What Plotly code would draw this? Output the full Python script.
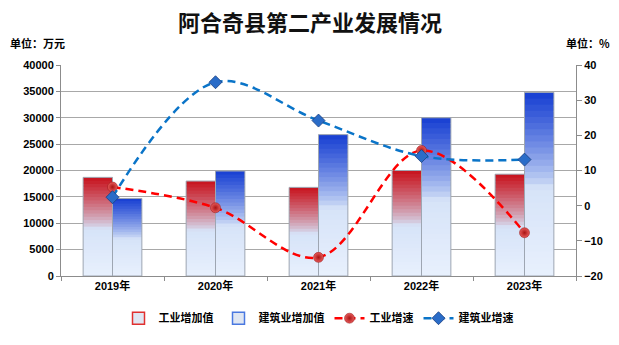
import plotly.graph_objects as go

years = ["2019年", "2020年", "2021年", "2022年", "2023年"]
industry_value = [18700, 18000, 16800, 20000, 19300]
construction_value = [14700, 19900, 26800, 30000, 34800]
industry_growth = [5.3, -0.6, -14.7, 15.7, -7.7]
construction_growth = [2.4, 35.1, 24.2, 14.1, 13.1]

names = ["工业增加值", "建筑业增加值", "工业增速", "建筑业增速"]

FONT = "Liberation Sans, Noto Sans CJK SC, sans-serif"
CJK = "Noto Sans CJK SC, sans-serif"

N = 30
LIGHT_BOT = (232, 240, 253)
LIGHT_TOP = (214, 227, 248)
RED = (200, 18, 28)
BLUE = (22, 62, 210)


def lerp(a, b, t):
    return tuple(int(round(a[i] + (b[i] - a[i]) * t)) for i in range(3))


def col(f, dark):
    thr = 0.48
    if f < thr:
        c = lerp(LIGHT_BOT, LIGHT_TOP, f / thr)
    else:
        t = (f - thr) / (1 - thr)
        t = t ** 0.8
        c = lerp(LIGHT_TOP, dark, t)
    return "rgb(%d,%d,%d)" % c


fig = go.Figure()

# legend-only entries for bars
fig.add_trace(go.Bar(x=years, y=[None] * 5, name=names[0], offsetgroup="a",
                     marker=dict(color="#dfe6f2", line=dict(color="#e03030", width=1.5))))
fig.add_trace(go.Bar(x=years, y=[None] * 5, name=names[1], offsetgroup="b",
                     marker=dict(color="#dfe6f2", line=dict(color="#4a78e0", width=1.5))))

for vals, grp, dark in [(industry_value, "a", RED), (construction_value, "b", BLUE)]:
    for k in range(N):
        f = (k + 0.5) / N
        h = 1.0 if k == N - 1 else 1.8
        fig.add_trace(go.Bar(
            x=years, y=[v / N * h for v in vals], base=[v * k / N for v in vals],
            offsetgroup=grp, showlegend=False, hoverinfo="skip",
            marker=dict(color=col(f, dark), line=dict(width=0)),
        ))
    fig.add_trace(go.Bar(
        x=years, y=vals, base=[0] * 5, offsetgroup=grp, showlegend=False,
        marker=dict(color="rgba(0,0,0,0)", line=dict(color="#9ea6b2", width=1)),
    ))

fig.add_trace(go.Scatter(
    x=years, y=industry_growth, name=names[2], yaxis="y2", mode="lines+markers",
    line=dict(color="#ff0000", width=2.5, dash="8px,5px", shape="spline", smoothing=1),
    marker=dict(symbol="circle", size=10, color="#e85a5a",
                gradient=dict(type="radial", color="#a81414"),
                line=dict(color="#901010", width=0.5)),
))
fig.add_trace(go.Scatter(
    x=years, y=construction_growth, name=names[3], yaxis="y2", mode="lines+markers",
    line=dict(color="#0a74c8", width=2.5, dash="8px,5px", shape="spline", smoothing=1),
    marker=dict(symbol="diamond", size=10, color="#2a6cc8",
                line=dict(color="#1a3f80", width=0.8)),
))

fig.update_layout(
    width=619, height=345,
    margin=dict(l=61, r=43, t=65, b=61),
    paper_bgcolor="white", plot_bgcolor="white",
    barmode="group", bargap=0.43, bargroupgap=0,
    font=dict(family=FONT, size=11, color="#000"),
    showlegend=True,
    legend=dict(orientation="h", x=0.5, xanchor="center", y=-0.2, yanchor="middle",
                font=dict(family=CJK, size=11, color="#000", weight="bold"),
                itemwidth=30, tracegroupgap=0),
    xaxis=dict(
        showline=True, linecolor="#8c8c8c", linewidth=1,
        ticks="outside", tickson="boundaries", ticklen=4, tickcolor="#8c8c8c",
        tickfont=dict(family=FONT, size=11, weight="bold"),
        showgrid=False,
    ),
    yaxis=dict(
        range=[0, 40000], dtick=5000, tickformat="d", showline=True, linecolor="#8c8c8c", linewidth=1,
        ticks="outside", ticklen=4, tickcolor="#8c8c8c",
        gridcolor="#a8a8a8", gridwidth=1, zeroline=False,
        tickfont=dict(family=FONT, size=11, weight="bold"),
    ),
    yaxis2=dict(
        range=[-20, 40], dtick=10, overlaying="y", side="right",
        showline=True, linecolor="#8c8c8c", linewidth=1,
        ticks="outside", ticklen=5, tickcolor="#8c8c8c",
        showgrid=False, zeroline=False,
        tickfont=dict(family=FONT, size=11, weight="bold"),
    ),
    annotations=[
        dict(text="阿合奇县第二产业发展情况", x=0.5, y=20, xref="paper", yref="paper",
             showarrow=False, font=dict(family=CJK, size=22, weight="bold", color="#111"),
             xanchor="center", yanchor="middle"),
        dict(text="单位：万元", x=8, y=42, showarrow=False,
             font=dict(family=CJK, size=11, weight="bold")),
        dict(text="单位：%", x=612, y=42, showarrow=False,
             font=dict(family=CJK, size=11, weight="bold")),
    ],
)

W, H = 619, 345
l, r, t, b = 61, 43, 65, 61
pw, ph = W - l - r, H - t - b


def px(xp):
    return (xp - l) / pw


def py(yp):
    return (H - b - yp) / ph


anns = list(fig.layout.annotations)
anns[0].update(x=px(310), y=py(19))
anns[1].update(x=px(8), y=py(42), xref="paper", yref="paper", xanchor="left", yanchor="middle")
anns[2].update(x=px(612), y=py(42), xref="paper", yref="paper", xanchor="right", yanchor="middle")
fig.layout.annotations = anns

fig.write_html("out.html")
